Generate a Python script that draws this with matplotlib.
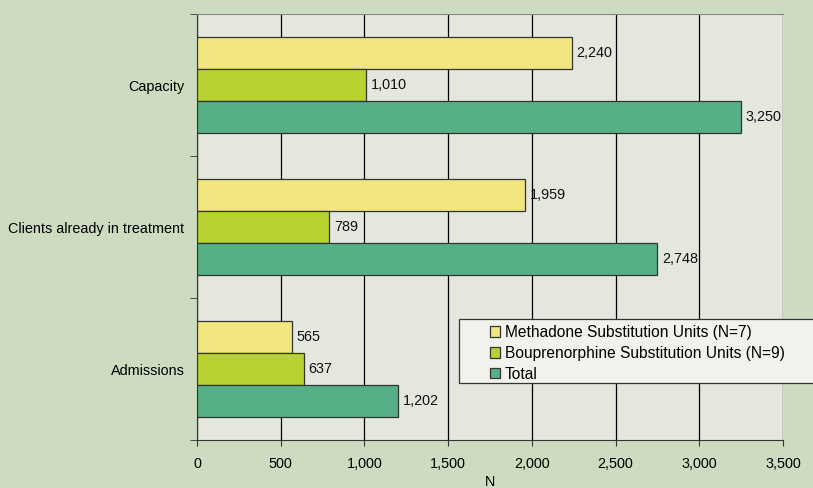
import matplotlib
matplotlib.use("Agg")
import matplotlib.pyplot as plt
from matplotlib.patches import Rectangle
import numpy as np

categories = ["Capacity", "Clients already in treatment", "Admissions"]
series_names = ["Methadone Substitution Units (N=7)",
                "Bouprenorphine Substitution Units (N=9)",
                "Total"]
methadone = [2240, 1959, 565]
bouprenorphine = [1010, 789, 637]
total = [3250, 2748, 1202]
x_ticks = [0, 500, 1000, 1500, 2000, 2500, 3000, 3500]

colors = ["#f2e67e", "#b8d230", "#55b085"]
fig_bg = "#cddcc0"
ax_bg = "#e4e7de"

plt.rcParams["font.family"] = ["Liberation Sans", "DejaVu Sans"]
plt.rcParams["font.size"] = 10.4

fig = plt.figure(figsize=(8.13, 4.88), dpi=100, facecolor=fig_bg)
ax = fig.add_axes([197 / 813, 1 - 440 / 488, 586 / 813, 426 / 488])
ax.set_facecolor(ax_bg)

y = np.arange(len(categories))
bar_h = 0.22
offsets = [-0.225, 0.0, 0.225]
handles = []
for series, off, col, name in zip([methadone, bouprenorphine, total],
                                  offsets, colors, series_names):
    bars = ax.barh(y + off, series, height=bar_h, color=col,
                   edgecolor="#333333", linewidth=0.9, label=name, zorder=3)
    handles.append(bars)
    for yy, v in zip(y + off, series):
        ax.text(v + 28, yy, f"{v:,}", va="center", ha="left",
                fontsize=10.4, color="#111111", zorder=4)

ax.set_xlim(0, 3500)
ax.set_ylim(len(categories) - 0.5, -0.5)
ax.set_xticks(x_ticks)
ax.set_xticklabels([f"{t:,}" for t in x_ticks])
ax.set_yticks(y)
ax.set_yticklabels(categories)
ax.set_yticks(np.arange(-0.5, len(categories), 1.0), minor=True)
ax.tick_params(axis="y", which="major", length=0, pad=9)
ax.tick_params(axis="y", which="minor", length=5, direction="out",
               color="#333333")
ax.tick_params(axis="x", length=4, direction="out", color="#333333", pad=8)
ax.xaxis.grid(True, color="black", linewidth=0.9, zorder=1)
ax.set_axisbelow(True)
ax.set_xlabel("N", labelpad=3)

ax.spines["right"].set_visible(False)
ax.spines["top"].set_color("#888888")
ax.spines["left"].set_color("#333333")
ax.spines["bottom"].set_color("#333333")

# legend box reaching to the right edge of the figure
x0, y0 = 459 / 813, 1 - 383 / 488
fig.patches.append(Rectangle((x0, y0), 1.0 - x0 + 0.01, 64 / 488,
                             transform=fig.transFigure, facecolor="#f2f2ec",
                             edgecolor="#333333", linewidth=0.9, zorder=5))
leg = fig.legend(handles=handles, labels=series_names, loc="upper left",
                 bbox_to_anchor=(479 / 813, 1 - 314 / 488), frameon=False,
                 handlelength=0.65, handleheight=0.65, handletextpad=0.3,
                 labelspacing=0.38, borderpad=0.2, fontsize=11.2)
leg.set_zorder(6)

fig.savefig("out.png", dpi=100, facecolor=fig_bg)
